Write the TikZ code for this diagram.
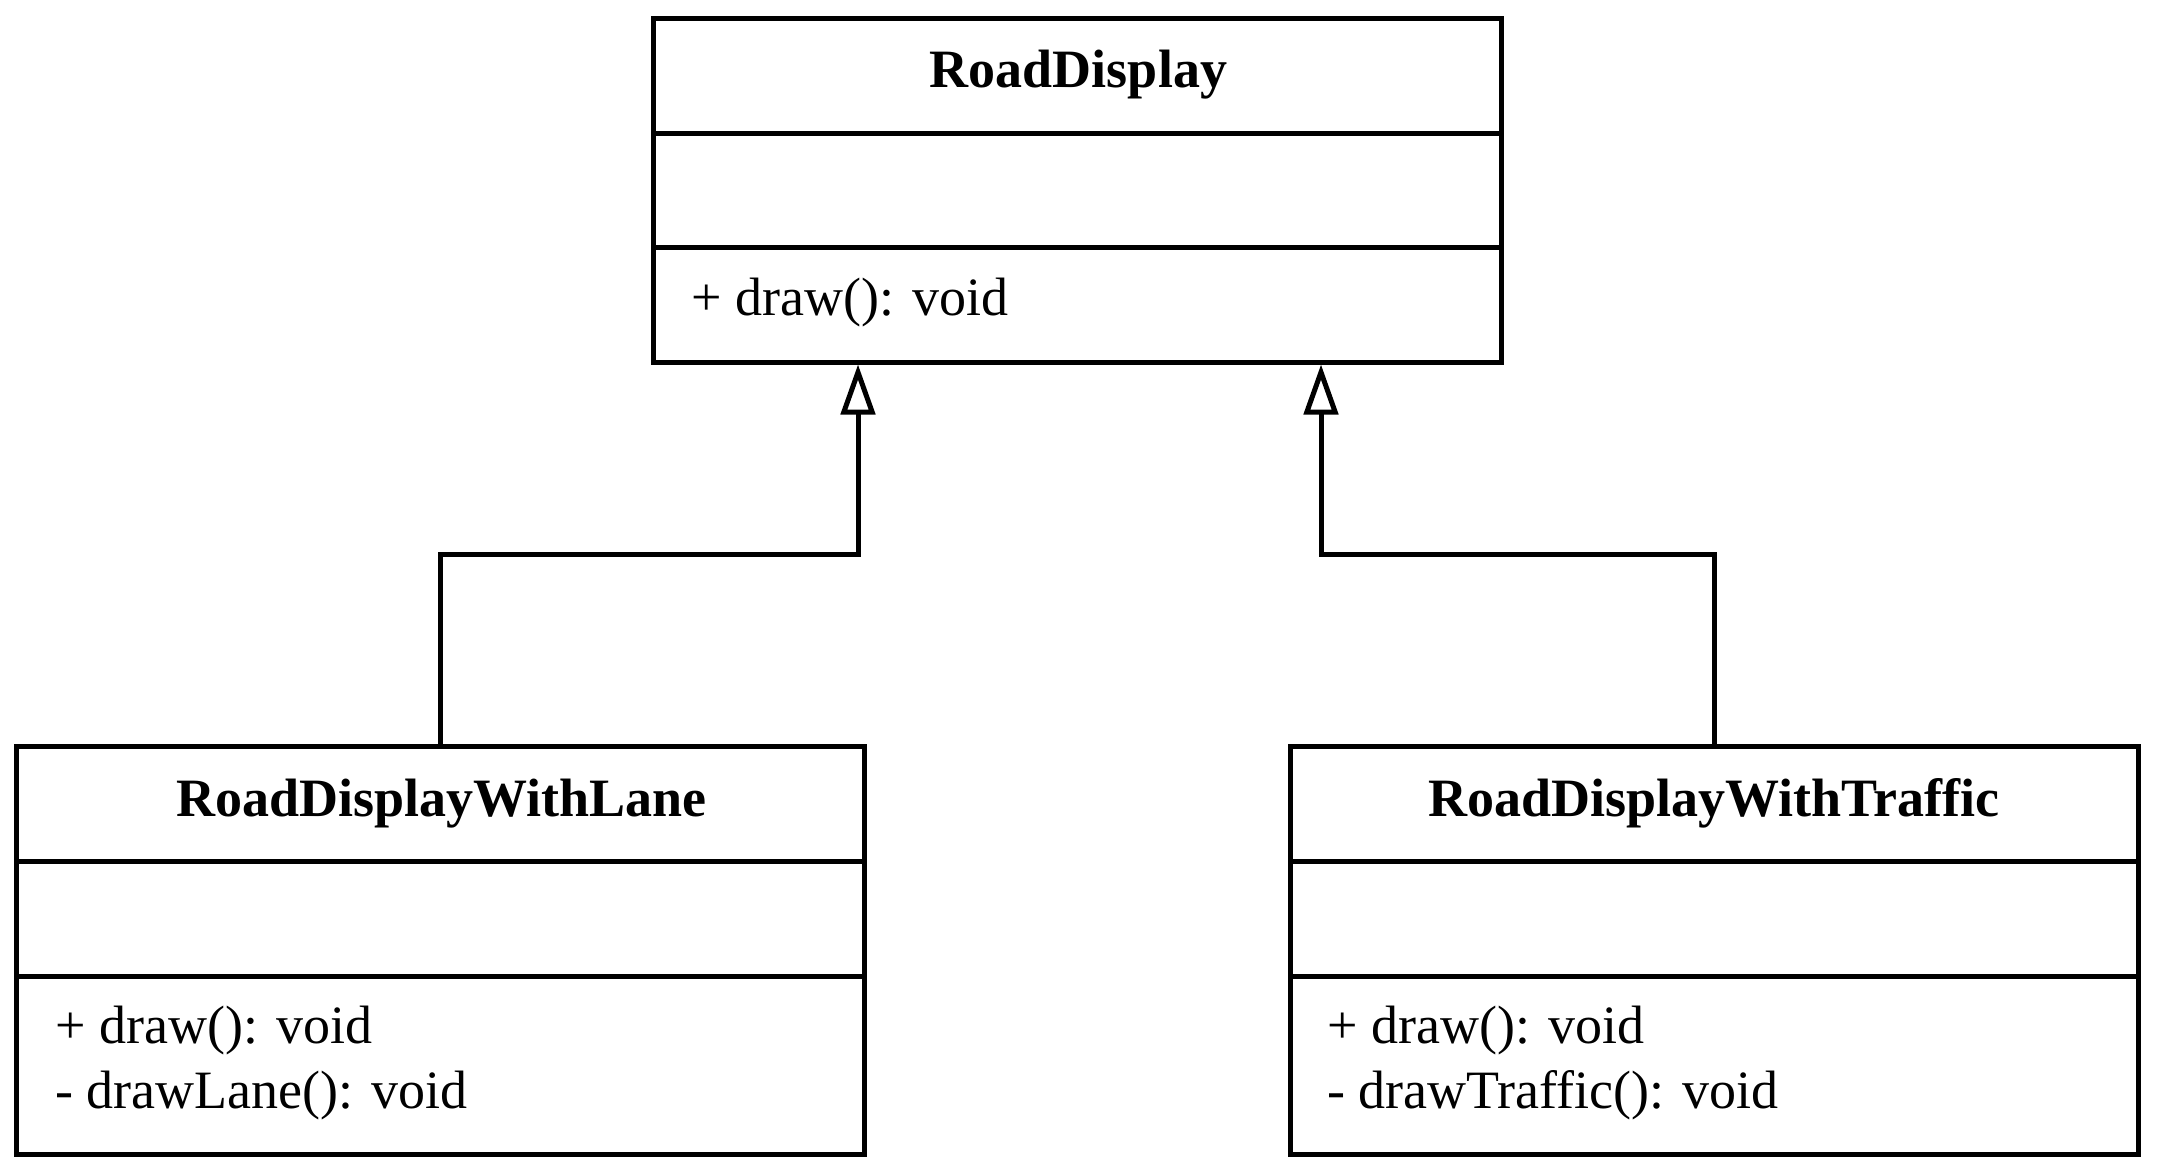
\documentclass[tikz,border=0pt]{standalone}
\usepackage{fontspec}
\setmainfont{Liberation Serif}
\usetikzlibrary{arrows.meta}
\begin{document}
\begin{tikzpicture}[x=0.5pt,y=-0.5pt,
  comp/.style={draw, line width=2.5pt, minimum width=424pt, inner sep=0pt, anchor=center},
  lbl/.style={font=\fontsize{27}{32}\selectfont, inner sep=0pt},
  ttl/.style={inner sep=0pt, font=\fontsize{27}{32}\selectfont\bfseries},
  inh/.style={line width=2.5pt, -{Triangle[open,length=25pt,width=17pt]}}]
\useasboundingbox (0,0) rectangle (2158,1166);
% RoadDisplay
\node[comp, minimum height=57.5pt] (rdH) at (1077.5,76.5) {};
\node[comp, minimum height=57pt] (rdA) at (1077.5,191) {};
\node[comp, minimum height=57pt] (rdM) at (1077.5,305) {};
\node[ttl, anchor=base] (rdT) at (1078.5,88) {RoadDisplay};
\node[lbl, anchor=base west] (rdM1) at (691,315) {+ draw(): void};
% RoadDisplayWithLane
\node[comp, minimum height=57.5pt] (rdlH) at (440.5,804) {};
\node[comp, minimum height=57.5pt] (rdlA) at (440.5,918.5) {};
\node[comp, minimum height=89pt] (rdlM) at (440.5,1065) {};
\node[ttl, anchor=base] (rdlT) at (441.5,816) {RoadDisplayWithLane};
\node[lbl, anchor=base west] (rdlM1) at (55,1043) {+ draw(): void};
\node[lbl, anchor=base west] (rdlM2) at (55,1108) {- drawLane(): void};
% RoadDisplayWithTraffic
\node[comp, minimum height=57.5pt] (rdrH) at (1714,804) {};
\node[comp, minimum height=57.5pt] (rdrA) at (1714,918.5) {};
\node[comp, minimum height=89pt] (rdrM) at (1714,1065) {};
\node[ttl, anchor=base] (rdrT) at (1714,816) {RoadDisplayWithTraffic};
\node[lbl, anchor=base west] (rdrM1) at (1327,1043) {+ draw(): void};
\node[lbl, anchor=base west] (rdrM2) at (1327,1108) {- drawTraffic(): void};
% connectors
\coordinate (jl) at (858,554);
\coordinate (jr) at (1321,554);
\draw[inh] (rdlH.north) |- (jl) -- (jl |- rdM.south);
\draw[inh] (rdrH.north) |- (jr) -- (jr |- rdM.south);
\end{tikzpicture}
\end{document}
